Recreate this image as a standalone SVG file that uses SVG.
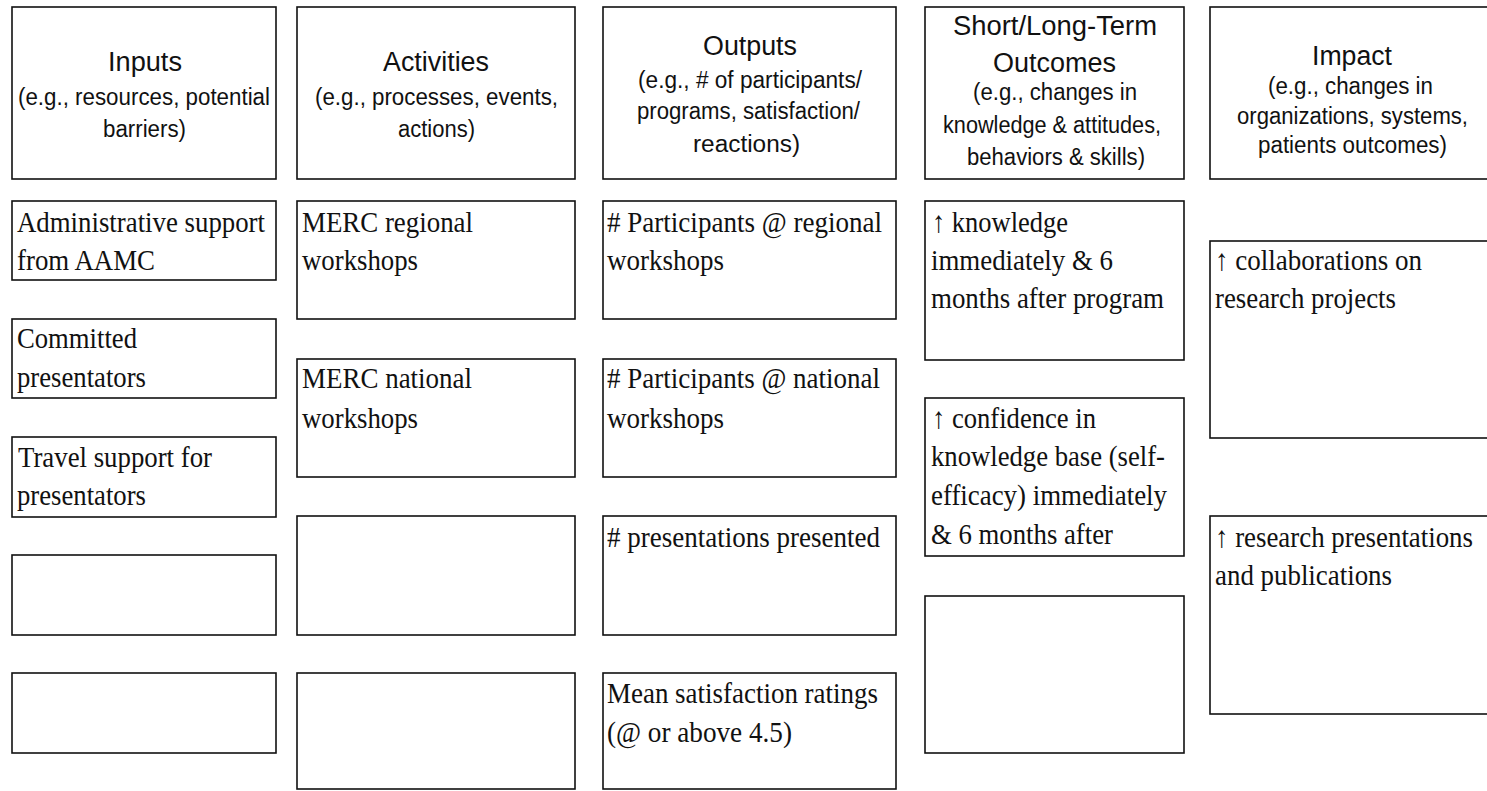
<svg xmlns="http://www.w3.org/2000/svg" width="1487" height="791" viewBox="0 0 1487 791">
<style>
rect.b{fill:#fff;stroke:#111;stroke-width:1.6}
text.t{font-family:"Liberation Sans",Arial,sans-serif;font-size:27px;fill:#111}
text.s{font-family:"Liberation Sans",Arial,sans-serif;font-size:23px;fill:#111}
text.c{font-family:"Liberation Serif","DejaVu Serif","Times New Roman",serif;font-size:30px;fill:#111}
</style>
<rect width="1487" height="791" fill="#fff"/>
<g id="connectors"/>
<!-- Headers -->
<g id="h-inputs">
<rect class="b" x="12" y="7" width="264" height="172"/>
<text class="t" x="108" y="71" textLength="74" lengthAdjust="spacingAndGlyphs">Inputs</text>
<text class="s" x="18" y="105" textLength="252" lengthAdjust="spacingAndGlyphs">(e.g., resources, potential</text>
<text class="s" x="103" y="137" textLength="83" lengthAdjust="spacingAndGlyphs">barriers)</text>
</g>
<g id="h-activities">
<rect class="b" x="297" y="7" width="278" height="172"/>
<text class="t" x="383" y="71" textLength="106" lengthAdjust="spacingAndGlyphs">Activities</text>
<text class="s" x="315" y="105" textLength="243" lengthAdjust="spacingAndGlyphs">(e.g., processes, events,</text>
<text class="s" x="398" y="137" textLength="77" lengthAdjust="spacingAndGlyphs">actions)</text>
</g>
<g id="h-outputs">
<rect class="b" x="603" y="7" width="293" height="172"/>
<text class="t" x="703" y="55" textLength="94" lengthAdjust="spacingAndGlyphs">Outputs</text>
<text class="s" x="638" y="88" textLength="224" lengthAdjust="spacingAndGlyphs">(e.g., # of participants/</text>
<text class="s" x="637" y="119" textLength="223" lengthAdjust="spacingAndGlyphs">programs, satisfaction/</text>
<text class="s" x="693" y="152" textLength="107" lengthAdjust="spacingAndGlyphs">reactions)</text>
</g>
<g id="h-outcomes">
<rect class="b" x="925" y="7" width="259" height="172"/>
<text class="t" x="953" y="35" textLength="204" lengthAdjust="spacingAndGlyphs">Short/Long-Term</text>
<text class="t" x="993" y="72" textLength="123" lengthAdjust="spacingAndGlyphs">Outcomes</text>
<text class="s" x="973" y="100" textLength="164" lengthAdjust="spacingAndGlyphs">(e.g., changes in</text>
<text class="s" x="943" y="133" textLength="218" lengthAdjust="spacingAndGlyphs">knowledge &amp; attitudes,</text>
<text class="s" x="967" y="165" textLength="178" lengthAdjust="spacingAndGlyphs">behaviors &amp; skills)</text>
</g>
<g id="h-impact">
<rect class="b" x="1210" y="7" width="290" height="172"/>
<text class="t" x="1312" y="65" textLength="80" lengthAdjust="spacingAndGlyphs">Impact</text>
<text class="s" x="1268" y="94" textLength="165" lengthAdjust="spacingAndGlyphs">(e.g., changes in</text>
<text class="s" x="1237" y="124" textLength="231" lengthAdjust="spacingAndGlyphs">organizations, systems,</text>
<text class="s" x="1258" y="153" textLength="189" lengthAdjust="spacingAndGlyphs">patients outcomes)</text>
</g>
<!-- Inputs column -->
<g id="in-1">
<rect class="b" x="12" y="201" width="264" height="79"/>
<text class="c" x="17" y="232" textLength="248" lengthAdjust="spacingAndGlyphs">Administrative support</text>
<text class="c" x="17" y="270" textLength="138" lengthAdjust="spacingAndGlyphs">from AAMC</text>
</g>
<g id="in-2">
<rect class="b" x="12" y="319" width="264" height="79"/>
<text class="c" x="17" y="348" textLength="120" lengthAdjust="spacingAndGlyphs">Committed</text>
<text class="c" x="17" y="387" textLength="129" lengthAdjust="spacingAndGlyphs">presentators</text>
</g>
<g id="in-3">
<rect class="b" x="12" y="437" width="264" height="80"/>
<text class="c" x="18" y="467" textLength="194" lengthAdjust="spacingAndGlyphs">Travel support for</text>
<text class="c" x="17" y="505" textLength="129" lengthAdjust="spacingAndGlyphs">presentators</text>
</g>
<g id="in-4"><rect class="b" x="12" y="555" width="264" height="80"/></g>
<g id="in-5"><rect class="b" x="12" y="673" width="264" height="80"/></g>
<!-- Activities column -->
<g id="act-1">
<rect class="b" x="297" y="201" width="278" height="118"/>
<text class="c" x="302" y="232" textLength="171" lengthAdjust="spacingAndGlyphs">MERC regional</text>
<text class="c" x="302" y="270" textLength="116" lengthAdjust="spacingAndGlyphs">workshops</text>
</g>
<g id="act-2">
<rect class="b" x="297" y="359" width="278" height="118"/>
<text class="c" x="302" y="388" textLength="170" lengthAdjust="spacingAndGlyphs">MERC national</text>
<text class="c" x="302" y="428" textLength="116" lengthAdjust="spacingAndGlyphs">workshops</text>
</g>
<g id="act-3"><rect class="b" x="297" y="516" width="278" height="119"/></g>
<g id="act-4"><rect class="b" x="297" y="673" width="278" height="116"/></g>
<!-- Outputs column -->
<g id="out-1">
<rect class="b" x="603" y="201" width="293" height="118"/>
<text class="c" x="607" y="232" textLength="275" lengthAdjust="spacingAndGlyphs"># Participants @ regional</text>
<text class="c" x="607" y="270" textLength="117" lengthAdjust="spacingAndGlyphs">workshops</text>
</g>
<g id="out-2">
<rect class="b" x="603" y="359" width="293" height="118"/>
<text class="c" x="607" y="388" textLength="273" lengthAdjust="spacingAndGlyphs"># Participants @ national</text>
<text class="c" x="607" y="428" textLength="117" lengthAdjust="spacingAndGlyphs">workshops</text>
</g>
<g id="out-3">
<rect class="b" x="603" y="516" width="293" height="119"/>
<text class="c" x="607" y="547" textLength="273" lengthAdjust="spacingAndGlyphs"># presentations presented</text>
</g>
<g id="out-4">
<rect class="b" x="603" y="673" width="293" height="116"/>
<text class="c" x="607" y="703" textLength="271" lengthAdjust="spacingAndGlyphs">Mean satisfaction ratings</text>
<text class="c" x="607" y="742" textLength="185" lengthAdjust="spacingAndGlyphs">(@ or above 4.5)</text>
</g>
<!-- Outcomes column -->
<g id="oc-1">
<rect class="b" x="925" y="201" width="259" height="159"/>
<text class="c" x="932" y="232" textLength="136" lengthAdjust="spacingAndGlyphs">↑ knowledge</text>
<text class="c" x="931" y="270" textLength="182" lengthAdjust="spacingAndGlyphs">immediately &amp; 6</text>
<text class="c" x="931" y="308" textLength="233" lengthAdjust="spacingAndGlyphs">months after program</text>
</g>
<g id="oc-2">
<rect class="b" x="925" y="398" width="259" height="158"/>
<text class="c" x="932" y="428" textLength="164" lengthAdjust="spacingAndGlyphs">↑ confidence in</text>
<text class="c" x="931" y="466" textLength="234" lengthAdjust="spacingAndGlyphs">knowledge base (self-</text>
<text class="c" x="931" y="505" textLength="236" lengthAdjust="spacingAndGlyphs">efficacy) immediately</text>
<text class="c" x="931" y="544" textLength="182" lengthAdjust="spacingAndGlyphs">&amp; 6 months after</text>
</g>
<g id="oc-3"><rect class="b" x="925" y="596" width="259" height="157"/></g>
<!-- Impact column -->
<g id="imp-1">
<rect class="b" x="1210" y="241" width="290" height="197"/>
<text class="c" x="1215" y="270" textLength="207" lengthAdjust="spacingAndGlyphs">↑ collaborations on</text>
<text class="c" x="1215" y="308" textLength="181" lengthAdjust="spacingAndGlyphs">research projects</text>
</g>
<g id="imp-2">
<rect class="b" x="1210" y="516" width="290" height="198"/>
<text class="c" x="1215" y="547" textLength="258" lengthAdjust="spacingAndGlyphs">↑ research presentations</text>
<text class="c" x="1215" y="585" textLength="177" lengthAdjust="spacingAndGlyphs">and publications</text>
</g>
</svg>
